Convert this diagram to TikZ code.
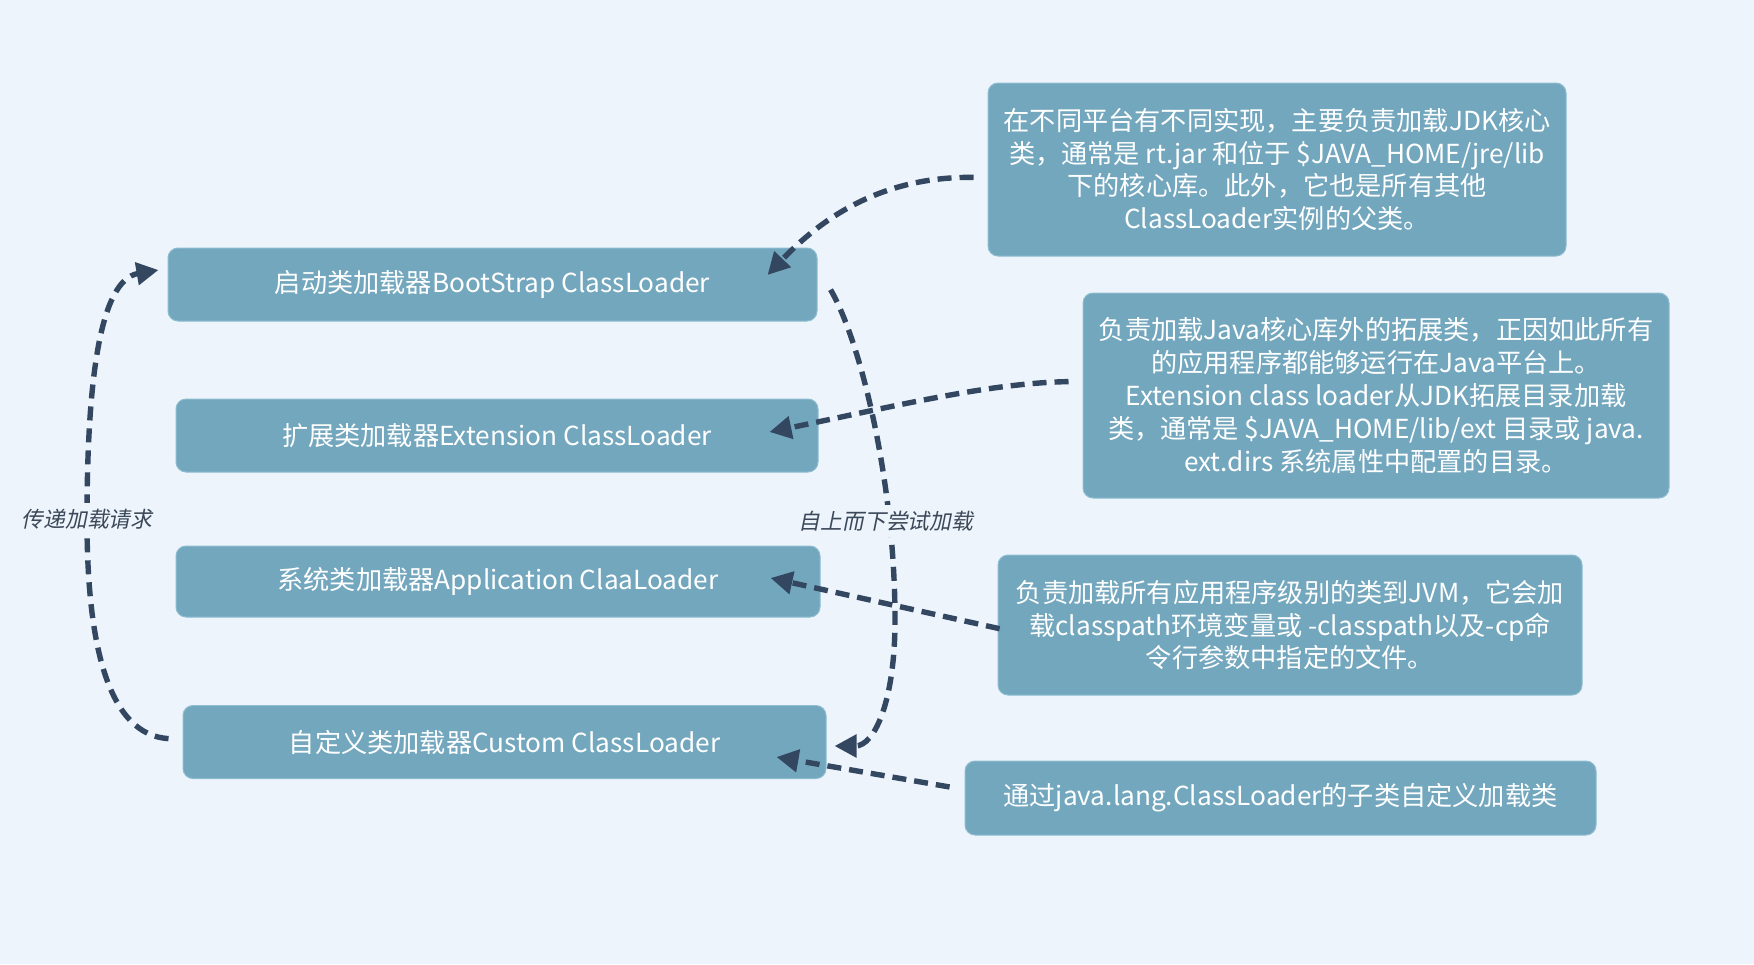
\documentclass[tikz,border=0pt]{standalone}
\usepackage{fontspec}
\setmainfont{Noto Sans CJK SC}
\newfontfamily\labfont[FakeSlant=0.2]{Noto Sans CJK SC}
\usetikzlibrary{arrows.meta,calc}
\definecolor{bgc}{HTML}{EDF4FB}
\definecolor{boxfill}{HTML}{73A7BE}
\definecolor{boxedge}{HTML}{8EBCD0}
\definecolor{arrowc}{HTML}{344760}
\definecolor{labc}{HTML}{3B4859}
\tikzset{
  box/.style={draw=boxedge, line width=0.5pt, fill=boxfill, rounded corners=5pt,
    text=white, align=center, inner sep=0pt,
    font=\fontsize{13.1pt}{16.4pt}\selectfont},
  flow/.style={draw=arrowc, line width=2.7pt, dash pattern=on 7pt off 4pt,
    -{Triangle[length=11pt,width=11pt]}, shorten <=3pt},
  lab/.style={fill=bgc, text=labc, inner sep=3pt, font=\labfont\fontsize{10.9pt}{13pt}\selectfont}
}
\begin{document}
\begin{tikzpicture}[x=0.5pt,y=-0.5pt]
\useasboundingbox (0,0) rectangle (1754,964);
\fill[bgc] (0,0) rectangle (1754,964);
% main boxes
\node[box, minimum width=324.5pt, minimum height=36.5pt] (b1) at (492.5,284.5) {启动类加载器BootStrap ClassLoader};
\node[box, minimum width=321pt, minimum height=36.5pt] (b2) at (497,435.5) {扩展类加载器Extension ClassLoader};
\node[box, minimum width=322pt, minimum height=35.5pt] (b3) at (498,581.5) {系统类加载器Application ClaaLoader};
\node[box, minimum width=321.5pt, minimum height=36.5pt] (b4) at (504.5,742) {自定义类加载器Custom ClassLoader};
% description boxes
\node[box, minimum width=289pt, minimum height=86.5pt] (r1) at (1277,169.5)
  {在不同平台有不同实现，主要负责加载JDK核心\\类，通常是 rt.jar 和位于 \$JAVA\_HOME/jre/lib\\下的核心库。此外，它也是所有其他\\ClassLoader实例的父类。};
\node[box, minimum width=293pt, minimum height=102.5pt] (r2) at (1376,395.5)
  {负责加载Java核心库外的拓展类，正因如此所有\\的应用程序都能够运行在Java平台上。\\Extension class loader从JDK拓展目录加载\\类，通常是 \$JAVA\_HOME/lib/ext 目录或 java.\\ext.dirs 系统属性中配置的目录。};
\node[box, minimum width=292pt, minimum height=70pt] (r3) at (1290,625)
  {负责加载所有应用程序级别的类到JVM，它会加\\载classpath环境变量或 -classpath以及-cp命\\令行参数中指定的文件。};
\node[box, minimum width=315.5pt, minimum height=37pt] (r4) at (1280.5,798)
  {通过java.lang.ClassLoader的子类自定义加载类};
% arrow end points
\coordinate (t1) at ($(b1.east)+(-50,-9.5)$);
\coordinate (t2) at ($(b2.east)+(-49,-3.5)$);
\coordinate (t3) at ($(b3.east)+(-50,-3.5)$);
\coordinate (t4) at ($(b4.east)+(-50,15)$);
\coordinate (t5) at ($(b4.east)+(8,4)$);
\coordinate (t6) at ($(b1.west)+(-9,-14.5)$);
\coordinate (s1) at ($(r1.west)+(-8,8)$);
\coordinate (s2) at ($(r2.west)+(-8,-14)$);
\coordinate (s3) at ($(r3.west)+(8,5)$);
\coordinate (s4) at ($(r4.west)+(-9,-10)$);
\coordinate (s5) at ($(b1.east)+(10,0)$);
\coordinate (s6) at ($(b4.west)+(-8,-3)$);
% connectors
\draw[flow] (s1) .. controls (880,176) and (820,220) .. (t1);
\draw[flow] (s2) .. controls (990,383) and (900,405) .. (t2);
\draw[flow] (s3) -- (t3);
\draw[flow] (s4) -- (t4);
\draw[flow] (s5) .. controls (860,340) and (895,480) .. (895,620) .. controls (895,700) and (875,746) .. (t5);
\draw[flow] (s6) .. controls (110,735) and (87,650) .. (87,520) .. controls (87,380) and (100,280) .. (t6);
% labels
\node[lab] (l1) at (87,519) {传递加载请求};
\node[lab] (l2) at (886,521) {自上而下尝试加载};
\end{tikzpicture}
\end{document}
